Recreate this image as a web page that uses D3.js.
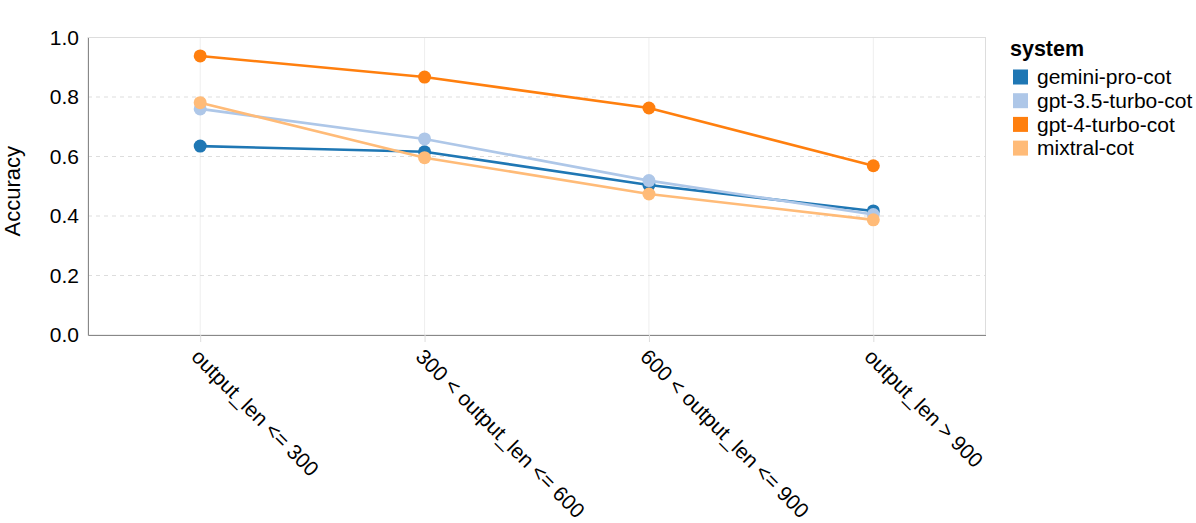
<!DOCTYPE html>
<html><head><meta charset="utf-8">
<script src="https://cdn.jsdelivr.net/npm/d3@7"></script>
<style>body{margin:0;background:#fff;} text{font-family:"Liberation Sans",Arial,sans-serif;}</style>
</head><body>
<svg id="c" width="1196" height="523"></svg>
<script>
const categories = ["output_len <= 300", "300 < output_len <= 600", "600 < output_len <= 900", "output_len > 900"];
const systems = ["gemini-pro-cot", "gpt-3.5-turbo-cot", "gpt-4-turbo-cot", "mixtral-cot"];
const colors = ["#1f77b4", "#aec7e8", "#ff7f0e", "#ffbb78"];
const geminiVals = [0.635, 0.616, 0.504, 0.417];
const gpt35Vals = [0.760, 0.659, 0.519, 0.405];
const gpt4Vals = [0.938, 0.867, 0.763, 0.569];
const mixtralVals = [0.781, 0.596, 0.474, 0.387];
const yTicks = [0, 0.2, 0.4, 0.6, 0.8, 1.0];
const seriesVals = [geminiVals, gpt35Vals, gpt4Vals, mixtralVals];

const svg = d3.select("#c");
const L = 88, R = 985.5, T = 37.5, B = 335;
const x = d3.scalePoint().domain(categories).range([L, R]).padding(0.5);
const y = d3.scaleLinear().domain([0, 1]).range([B, T]);
const color = d3.scaleOrdinal().domain(systems).range(colors);
const fs = 21;

// grid
const g = svg.append("g");
g.selectAll(".vg").data(categories).join("line")
  .attr("x1", d => x(d)).attr("x2", d => x(d)).attr("y1", T).attr("y2", B)
  .attr("stroke", "#eee").attr("stroke-width", 1);
g.selectAll(".hg").data(yTicks.filter(t => t > 0 && t < 1)).join("line")
  .attr("x1", L).attr("x2", R).attr("y1", d => y(d)).attr("y2", d => y(d))
  .attr("stroke", "#ddd").attr("stroke-dasharray", "4,4").attr("stroke-width", 1);
// view border
svg.append("rect").attr("x", L).attr("y", T).attr("width", R - L).attr("height", B - T)
  .attr("fill", "none").attr("stroke", "#ddd");

// x axis
const xa = svg.append("g").attr("transform", `translate(0,${B})`)
  .call(d3.axisBottom(x).tickSize(7).tickSizeOuter(0));
xa.select(".domain").attr("stroke", "#888");
xa.selectAll(".tick line").attr("stroke", "#ddd");
xa.selectAll(".tick text").attr("font-size", fs).attr("fill", "#000")
  .attr("text-anchor", "start").attr("dy", null).attr("y", 0)
  .attr("transform", "translate(-10.5,23) rotate(45)");
xa.attr("font-family", null);

// y axis
const ya = svg.append("g").attr("transform", `translate(${L},0)`)
  .call(d3.axisLeft(y).tickValues(yTicks).tickFormat(d3.format(".1f")).tickSize(0).tickPadding(9));
ya.select(".domain").attr("stroke", "#888");
ya.selectAll(".tick text").attr("font-size", fs).attr("fill", "#000");
ya.attr("font-family", null);

svg.append("text").attr("transform", `translate(20,${(T + B) / 2 + 5}) rotate(-90)`)
  .attr("text-anchor", "middle").attr("font-size", 22).text("Accuracy");

// lines and points
const line = d3.line().x((d, i) => x(categories[i])).y(d => y(d));
systems.forEach((s, si) => {
  const vals = seriesVals[si];
  svg.append("path").datum(vals).attr("d", line).attr("fill", "none")
    .attr("stroke", color(s)).attr("stroke-width", 2.6);
  svg.append("g").selectAll("circle").data(vals).join("circle")
    .attr("cx", (d, i) => x(categories[i])).attr("cy", d => y(d)).attr("r", 6.5)
    .attr("fill", color(s));
});

// legend
const lg = svg.append("g").attr("transform", "translate(1008,0)");
lg.append("text").attr("x", 2).attr("y", 56).attr("font-size", 21.5).attr("font-weight", "bold").text("system");
systems.forEach((s, i) => {
  const cy = 77 + i * 23.7;
  lg.append("rect").attr("x", 5).attr("y", cy - 7.5).attr("width", 15).attr("height", 15).attr("fill", color(s));
  lg.append("text").attr("x", 29).attr("y", cy).attr("dy", "0.35em").attr("font-size", fs).text(s);
});
</script>
</body></html>
